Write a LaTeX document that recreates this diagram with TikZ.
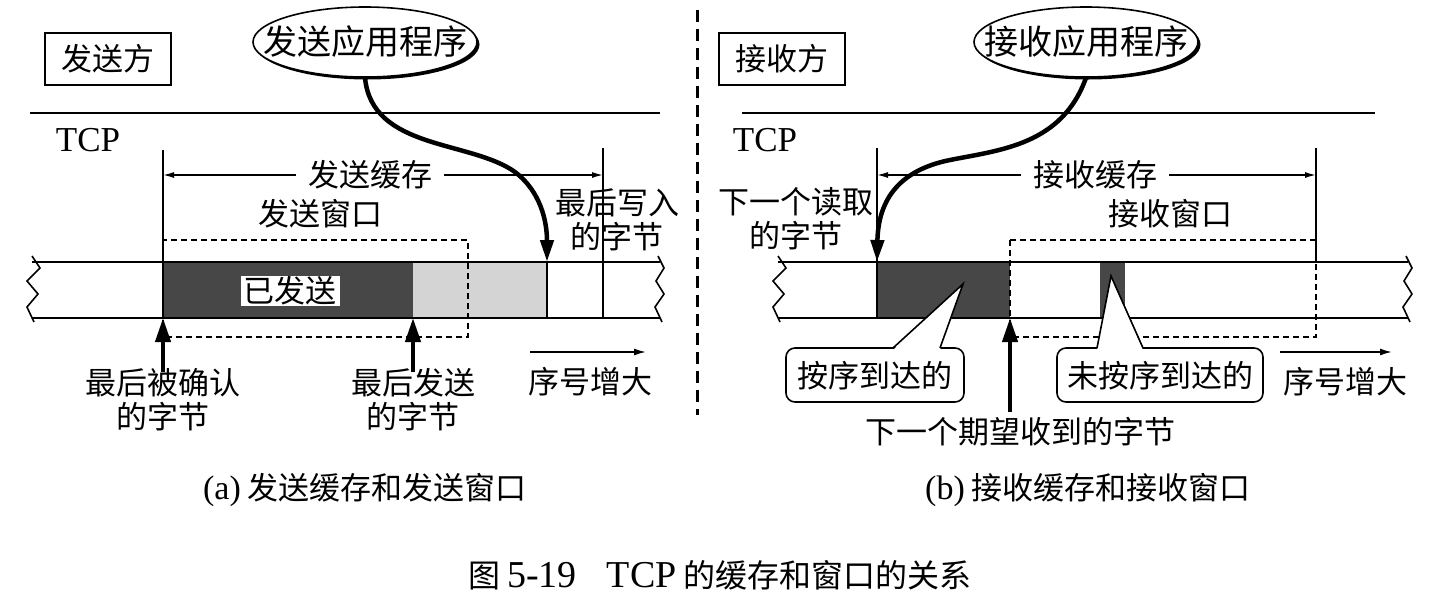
\documentclass[tikz,border=0pt]{standalone}
\usepackage{fontspec}
\setmainfont{Liberation Serif}
\newfontfamily\cjk{Noto Sans CJK SC}
\usetikzlibrary{arrows.meta,shadows,shapes.geometric}
\begin{document}
\begin{tikzpicture}[x=1pt,y=-1pt, line width=1.6pt,
  every node/.style={font=\cjk\fontsize{31}{34}\selectfont, inner sep=0pt},
  lat/.style={font=\rmfamily\fontsize{35}{38}\selectfont},
  sidebox/.style={draw, line width=2.4pt, minimum width=126pt, minimum height=52pt},
  app/.style={ellipse, draw, line width=1.6pt, fill=white, minimum width=224pt, minimum height=70pt,
     drop shadow={shadow xshift=2.5pt, shadow yshift=-2.5pt, fill=black, opacity=1}},
  apptext/.style={font=\cjk\fontsize{34}{38}\selectfont},
  dim/.style={line width=1.4pt, {Latex[length=11pt,width=6pt]}-{Latex[length=11pt,width=6pt]}},
  incr/.style={line width=1.6pt, -{Latex[length=12pt,width=7pt]}},
  uparrow/.style={line width=4pt, -{Triangle[length=24pt,width=15pt]}},
  appcurve/.style={line width=4.5pt, -{Triangle[length=22pt,width=13pt]}},
  win/.style={line width=1.6pt, dash pattern=on 6pt off 4pt},
  darkfill/.style={fill=black!72},
  lightfill/.style={fill=black!17},
  callout/.style={draw, line width=1.6pt, rounded corners=9pt},
  twoline/.style={align=center}
]
\useasboundingbox (0,0) rectangle (1438,603);

% ===================== (a) sender =====================
\node[sidebox] (sender) at (108,59) {发送方};
\node[app] (sapp) at (365,42) {};
\node[apptext] (sapptxt) at (sapp.center) {发送应用程序};
\coordinate (slL) at (30,113); \coordinate (slR) at (660,113);
\draw (slL) -- (slR);
\node[lat] (tcpA) at (88,140) {TCP};

% strip fills
\fill[darkfill] (163,262) rectangle (413,318);
\fill[lightfill] (413,262) rectangle (547,318);
% strip borders
\coordinate (sTL) at (32,262); \coordinate (sTR) at (660,262);
\coordinate (sBL) at (32,318); \coordinate (sBR) at (660,318);
\draw (sTL) -- (sTR);
\draw (sBL) -- (sBR);
\draw[line width=1.6pt] (32,256) -- (40,268) -- (27,281) -- (38,294) -- (27,307) -- (34,322);
\draw[line width=1.6pt] (658,256) -- (664,268) -- (656,281) -- (664,294) -- (655,307) -- (662,322);
% ticks
\coordinate (sbufL) at (163,150); \coordinate (sbufLb) at (163,318);
\coordinate (sbufR) at (603,148); \coordinate (sbufRb) at (603,318);
\draw (sbufL) -- (sbufLb);
\draw (sbufR) -- (sbufRb);
\coordinate (sw1) at (547,262); \coordinate (sw2) at (547,318);
\draw (sw1) -- (sw2);
% send window
\draw[win] (163,240) rectangle (468,337);
\node (sentlbl) at (290,291) [fill=white, inner xsep=3pt, inner ysep=1pt] {已发送};
\node (swinlbl) at (320,214) {发送窗口};
% buffer dimension
\coordinate (sdimL) at (163,175); \coordinate (sdimR) at (603,175);
\draw[dim] (sdimL) -- (sdimR);
\node (sbuflbl) at (370,175) [fill=white, inner xsep=12pt] {发送缓存};
% app curve
\draw[appcurve] (sapp.south) .. controls (372,150) and (470,140) .. (515,172) .. controls (545,195) and (547,230) .. (sw1);
\node (lastwrite) at (617,220) [twoline] {最后写入\\的字节};
% up arrows
\coordinate (ack0) at (163,372); \coordinate (nx0) at (413,372);
\draw[uparrow] (ack0) -- (sbufLb);
\draw[uparrow] (nx0) -- (413,318);
\node (acklbl) at (163,400) [twoline] {最后被确认\\的字节};
\node (sentlast) at (413,400) [twoline] {最后发送\\的字节};
% sequence increase
\coordinate (sqA) at (530,352); \coordinate (sqB) at (646,352);
\draw[incr] (sqA) -- (sqB);
\node (sqlblA) at (590,382) {序号增大};

% divider
\coordinate (divT) at (697,10); \coordinate (divB) at (697,415);
\draw[line width=3pt, dash pattern=on 12pt off 7pt] (divT) -- (divB);

% ===================== (b) receiver =====================
\node[sidebox] (recv) at (782,59) {接收方};
\node[app] (rapp) at (1086,42) {};
\node[apptext] (rapptxt) at (rapp.center) {接收应用程序};
\coordinate (rlL) at (742,113); \coordinate (rlR) at (1375,113);
\draw (rlL) -- (rlR);
\node[lat] (tcpB) at (765,140) {TCP};

\fill[darkfill] (877,262) rectangle (1010,318);
\fill[darkfill] (1100,262) rectangle (1125,318);
\coordinate (rTL) at (778,262); \coordinate (rTR) at (1408,262);
\coordinate (rBL) at (778,318); \coordinate (rBR) at (1408,318);
\draw (rTL) -- (rTR);
\draw (rBL) -- (rBR);
\draw[line width=1.6pt] (778,256) -- (786,268) -- (773,281) -- (784,294) -- (773,307) -- (780,322);
\draw[line width=1.6pt] (1406,256) -- (1412,268) -- (1404,281) -- (1412,294) -- (1403,307) -- (1410,322);
\coordinate (rbufL) at (877,148); \coordinate (rbufLb) at (877,262);
\coordinate (rbufR) at (1316,148); \coordinate (rbufRb) at (1316,262);
\draw (rbufL) -- (877,318);
\draw (rbufR) -- (rbufRb);
\draw[win] (1010,240) rectangle (1316,337);
\node (rwinlbl) at (1170,214) {接收窗口};
\coordinate (rdimL) at (877,175); \coordinate (rdimR) at (1316,175);
\draw[dim] (rdimL) -- (rdimR);
\node (rbuflbl) at (1095,175) [fill=white, inner xsep=12pt] {接收缓存};
\draw[appcurve] (rapp.south) .. controls (1062,145) and (1000,150) .. (950,160) .. controls (890,172) and (878,210) .. (rbufLb);
\node (nextread) at (796,219) [twoline] {下一个读取\\的字节};

% callouts
\draw[callout] (786,348) rectangle (964,402);
\node (inord) at (875,376) {按序到达的};
\coordinate (tip1) at (963,284);
\fill[white] (893,350) -- (tip1) -- (940,350) -- cycle;
\draw (893,348) -- (tip1) -- (940,348);
\draw[callout] (1057,348) rectangle (1263,402);
\node (outord) at (1160,376) {未按序到达的};
\coordinate (tip2) at (1111,276);
\fill[white] (1097,350) -- (tip2) -- (1143,350) -- cycle;
\draw (1097,348) -- (tip2) -- (1143,348);

\coordinate (exp0) at (1010,412); \coordinate (exp1) at (1010,318);
\draw[uparrow] (exp0) -- (exp1);
\node (explbl) at (1020,432) {下一个期望收到的字节};
\coordinate (sqC) at (1280,352); \coordinate (sqD) at (1392,352);
\draw[incr] (sqC) -- (sqD);
\node (sqlblB) at (1345,382) {序号增大};

% captions
\node (capA) at (365,490) {{\rmfamily\fontsize{34}{38}\selectfont (a)} 发送缓存和发送窗口};
\node (capB) at (1088,490) {{\rmfamily\fontsize{34}{38}\selectfont (b)} 接收缓存和接收窗口};
\node (capF) at (720,575) [font=\cjk\fontsize{32}{36}\selectfont] {图 {\rmfamily\fontsize{38}{40}\selectfont 5-19}\hspace{30pt}{\rmfamily\fontsize{38}{40}\selectfont TCP} 的缓存和窗口的关系};
\end{tikzpicture}
\end{document}
